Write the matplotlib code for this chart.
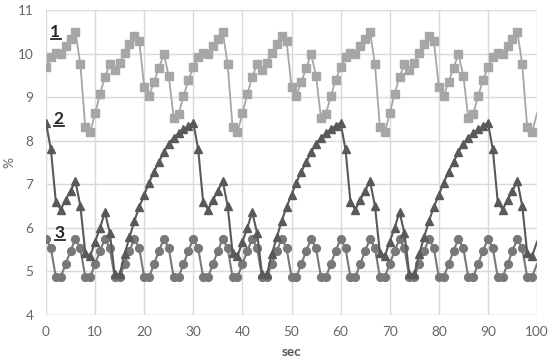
import matplotlib
matplotlib.use("Agg")
import matplotlib.pyplot as plt
from matplotlib.lines import Line2D

plt.rcParams['font.family'] = ['Lato', 'DejaVu Sans']

sec = list(range(0, 101))

# series 1 (squares)
series1 = [9.69, 9.93, 10.02, 9.99, 10.17, 10.33, 10.50, 9.75, 8.31, 8.19,
           8.63, 9.07, 9.47, 9.75, 9.63, 9.79, 10.02, 10.22, 10.40, 10.28,
           9.24, 9.03, 9.35, 9.67, 9.99, 9.49, 8.53, 8.61, 9.02, 9.39,
           9.69, 9.93, 10.02, 9.99, 10.17, 10.33, 10.50, 9.75, 8.31, 8.19,
           8.63, 9.07, 9.47, 9.75, 9.63, 9.79, 10.02, 10.22, 10.40, 10.28,
           9.24, 9.03, 9.35, 9.67, 9.99, 9.49, 8.53, 8.61, 9.02, 9.39,
           9.69, 9.93, 10.02, 9.99, 10.17, 10.33, 10.50, 9.75, 8.31, 8.19,
           8.63, 9.07, 9.47, 9.75, 9.63, 9.79, 10.02, 10.22, 10.40, 10.28,
           9.24, 9.03, 9.35, 9.67, 9.99, 9.49, 8.53, 8.61, 9.02, 9.39,
           9.69, 9.93, 10.02, 9.99, 10.17, 10.33, 10.50, 9.75, 8.31, 8.19,
           8.63]

# series 2 (triangles)
series2 = [8.41, 7.80, 6.60, 6.42, 6.64, 6.85, 7.07, 6.50, 5.43, 5.35,
           5.68, 6.00, 6.36, 5.88, 4.93, 4.93, 5.40, 5.78, 6.16, 6.48,
           6.76, 7.04, 7.29, 7.51, 7.74, 7.93, 8.07, 8.17, 8.26, 8.34,
           8.41, 7.80, 6.60, 6.42, 6.64, 6.85, 7.07, 6.50, 5.43, 5.35,
           5.68, 6.00, 6.36, 5.88, 4.93, 4.93, 5.40, 5.78, 6.16, 6.48,
           6.76, 7.04, 7.29, 7.51, 7.74, 7.93, 8.07, 8.17, 8.26, 8.34,
           8.41, 7.80, 6.60, 6.42, 6.64, 6.85, 7.07, 6.50, 5.43, 5.35,
           5.68, 6.00, 6.36, 5.88, 4.93, 4.93, 5.40, 5.78, 6.16, 6.48,
           6.76, 7.04, 7.29, 7.51, 7.74, 7.93, 8.07, 8.17, 8.26, 8.34,
           8.41, 7.80, 6.60, 6.42, 6.64, 6.85, 7.07, 6.50, 5.43, 5.35,
           5.68]

# series 3 (circles)
series3 = [5.75, 5.53, 4.87, 4.87, 5.17, 5.47,
           5.75, 5.53, 4.87, 4.87, 5.17, 5.47,
           5.75, 5.53, 4.87, 4.87, 5.17, 5.47,
           5.75, 5.53, 4.87, 4.87, 5.17, 5.47,
           5.75, 5.53, 4.87, 4.87, 5.17, 5.47,
           5.75, 5.53, 4.87, 4.87, 5.17, 5.47,
           5.75, 5.53, 4.87, 4.87, 5.17, 5.47,
           5.75, 5.53, 4.87, 4.87, 5.17, 5.47,
           5.75, 5.53, 4.87, 4.87, 5.17, 5.47,
           5.75, 5.53, 4.87, 4.87, 5.17, 5.47,
           5.75, 5.53, 4.87, 4.87, 5.17, 5.47,
           5.75, 5.53, 4.87, 4.87, 5.17, 5.47,
           5.75, 5.53, 4.87, 4.87, 5.17, 5.47,
           5.75, 5.53, 4.87, 4.87, 5.17, 5.47,
           5.75, 5.53, 4.87, 4.87, 5.17, 5.47,
           5.75, 5.53, 4.87, 4.87, 5.17, 5.47,
           5.75, 5.53, 4.87, 4.87, 5.17]

series_labels = ['1', '2', '3']
label_x = [1.9, 2.5, 2.7]
label_y = [10.50, 8.50, 5.88]

xticks = list(range(0, 101, 10))
yticks = list(range(4, 12))

fig = plt.figure(figsize=(5.5, 3.6), dpi=100)
ax = fig.add_axes([46/550, 45/360, (537-46)/550, (315-10)/360])

mk = list(range(0, 100))
ax.plot(sec, series1, color='#a6a6a6', lw=1.3, marker='s', markersize=5.4,
        markevery=mk, zorder=3)
ax.plot(sec, series3, color='#787878', lw=1.5, marker='o', markersize=5.6,
        markevery=mk, zorder=4)
ax.plot(sec, series2, color='#595959', lw=1.5, marker='^', markersize=6.2,
        markevery=mk, zorder=5)

texts = []
for lab, x, y in zip(series_labels, label_x, label_y):
    t = ax.text(x, y, lab, fontsize=12.5, fontweight='bold',
                color='#262626', ha='center', va='center', zorder=6)
    texts.append(t)

ax.set_xlim(0, 100)
ax.set_ylim(4, 11)
ax.set_xticks(xticks)
ax.set_yticks(yticks)
ax.grid(True, color='#d9d9d9', lw=1.0, zorder=0)
ax.set_axisbelow(True)
for s in ax.spines.values():
    s.set_visible(False)
ax.axhline(4, color='#d0d0d0', lw=1.0, zorder=1)
ax.tick_params(length=0, labelsize=9.8, labelcolor='#666666')
ax.tick_params(axis='y', pad=9)
ax.tick_params(axis='x', pad=8)
ax.set_xlabel('sec', fontsize=9.8, fontweight='bold', color='#595959', labelpad=6)
ax.set_ylabel('%', fontsize=10, color='#666666')
ax.yaxis.set_label_coords(-0.062, 0.5)

# underline the series labels (centred under each label)
fig.canvas.draw()
renderer = fig.canvas.get_renderer()
inv = fig.transFigure.inverted()
for t, x, y in zip(texts, label_x, label_y):
    bb = t.get_window_extent(renderer)
    cx, cy = ax.transData.transform((x, y))
    half = 5.0
    yl = bb.y0 + 1.0
    (x0, y0), (x1, y1) = inv.transform([(cx - half + 1, yl), (cx + half + 1, yl)])
    fig.add_artist(Line2D([x0, x1], [y0, y1], transform=fig.transFigure,
                          color='#262626', lw=1.3))

fig.savefig('out.png', dpi=100)
